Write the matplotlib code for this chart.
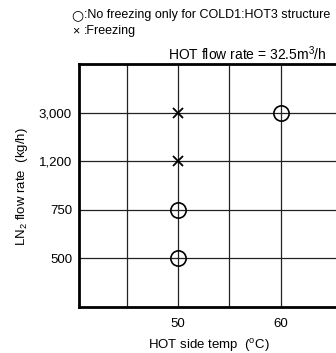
import matplotlib.pyplot as plt

plt.rcParams['font.family'] = ['Liberation Sans', 'DejaVu Sans']
plt.rcParams['mathtext.fontset'] = 'custom'
plt.rcParams['mathtext.rm'] = 'Liberation Sans'
plt.rcParams['mathtext.it'] = 'Liberation Sans:italic'

# LN2 flow rate categories (equally spaced on the chart)
flow_labels = ['500', '750', '1,200', '3,000']
flow_values = [500, 750, 1200, 3000]

# test results
ok_temp = [50, 50, 60]
ok_flow = [500, 750, 3000]
frz_temp = [50, 50]
frz_flow = [1200, 3000]

x_grid = [45, 50, 55, 60]
x_ticks = [50, 60]

pos = {v: i + 1 for i, v in enumerate(flow_values)}

fig = plt.figure(figsize=(3.36, 3.53), dpi=100)
ax = fig.add_axes([79 / 336, 46 / 353, 355 / 336, 243 / 353])

ax.set_xlim(40.3, 75)
ax.set_ylim(0, 5)

for xg in x_grid:
    ax.axvline(xg, color='#222222', lw=0.9, zorder=1)
for i in range(len(flow_values)):
    ax.axhline(i + 1, color='#222222', lw=0.9, zorder=1)

ax.plot(ok_temp, [pos[f] for f in ok_flow], linestyle='none', marker='o',
        markersize=11, markerfacecolor='none', markeredgecolor='black',
        markeredgewidth=1.2, zorder=3)
ax.plot(frz_temp, [pos[f] for f in frz_flow], linestyle='none', marker='x',
        markersize=6.5, color='black', markeredgewidth=1.3, zorder=3)

ax.set_yticks(range(1, len(flow_values) + 1))
ax.set_yticklabels(flow_labels)
ax.set_xticks(x_ticks)
ax.tick_params(length=0, labelsize=9.5, pad=5)
ax.tick_params(axis='x', pad=8)

for s in ['left', 'bottom', 'top']:
    ax.spines[s].set_linewidth(2.0)
ax.spines['right'].set_visible(False)

fig.text(22 / 336, 1 - 187 / 353, 'LN$_2$ flow rate  (kg/h)', rotation=90,
         ha='center', va='center', fontsize=9.5)
fig.text(209 / 336, 1 - 345 / 353, r'HOT side temp  ($^{\rm o}$C)',
         ha='center', va='center', fontsize=9.5)
fig.text(327 / 336, 1 - 54 / 353, 'HOT flow rate = 32.5m$^3$/h',
         ha='right', va='center', fontsize=10)
# legend notes
fig.text(71 / 336, 1 - 15 / 353, '\u25cb', family='DejaVu Sans',
         ha='left', va='center', fontsize=10)
fig.text(84 / 336, 1 - 15 / 353, ':No freezing only for COLD1:HOT3 structure',
         ha='left', va='center', fontsize=9)
fig.text(72 / 336, 1 - 31 / 353, '\u00d7',
         ha='left', va='center', fontsize=9)
fig.text(84 / 336, 1 - 31 / 353, ':Freezing',
         ha='left', va='center', fontsize=9)

fig.savefig('out.png', dpi=100)
